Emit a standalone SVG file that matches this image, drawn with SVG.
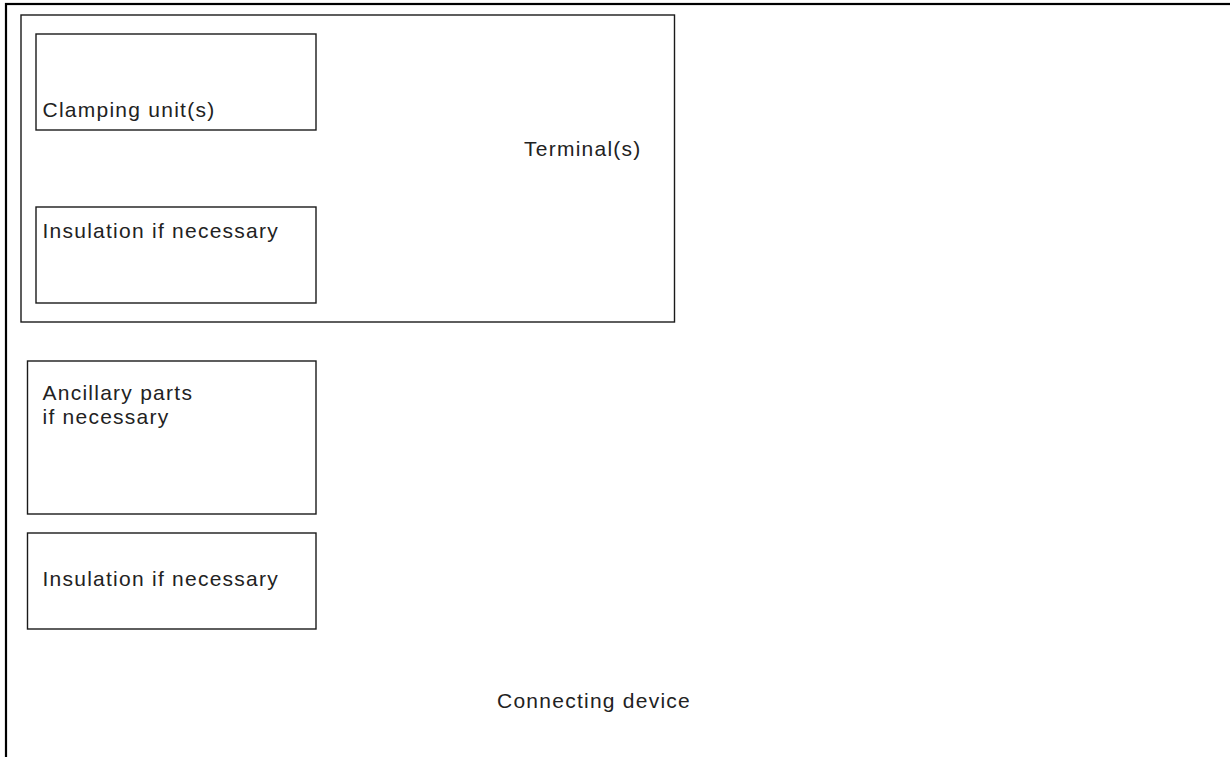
<svg xmlns="http://www.w3.org/2000/svg" width="1230" height="757" viewBox="0 0 1230 757">
<style>
.box{fill:none;stroke:#1a1a1a;stroke-width:1.4}
.frame{fill:none;stroke:#000;stroke-width:2.2}
text{font-family:"Liberation Sans",Arial,sans-serif;font-size:21px;letter-spacing:1.25px;fill:#222}
</style>
<rect width="1230" height="757" fill="#fff"/>
<g id="connecting-device">
<rect class="frame" x="6" y="4" width="1260" height="800"/>
<text x="497" y="708">Connecting device</text>
</g>
<g id="terminal">
<rect class="box" x="21" y="15" width="653.5" height="307"/>
<text x="524" y="156">Terminal(s)</text>
</g>
<g id="clamping-unit">
<rect class="box" x="36" y="34" width="280" height="96"/>
<text x="42.5" y="117">Clamping unit(s)</text>
</g>
<g id="insulation-1">
<rect class="box" x="36" y="207" width="280" height="96"/>
<text x="42.5" y="237.5">Insulation if necessary</text>
</g>
<g id="ancillary-parts">
<rect class="box" x="27.5" y="361" width="288.5" height="153"/>
<text x="42.5" y="400">Ancillary parts</text>
<text x="42.5" y="424">if necessary</text>
</g>
<g id="insulation-2">
<rect class="box" x="27.5" y="533" width="288.5" height="96"/>
<text x="42.5" y="586">Insulation if necessary</text>
</g>
<g id="connectors"></g>
</svg>
